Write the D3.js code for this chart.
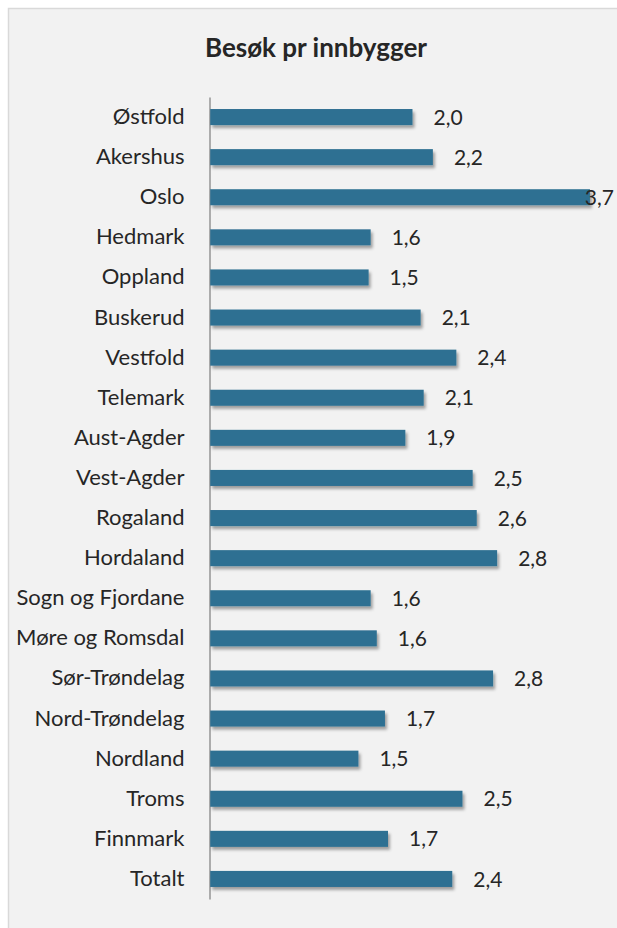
<!DOCTYPE html>
<html>
<head>
<meta charset="utf-8">
<script src="https://cdn.jsdelivr.net/npm/d3@7"></script>
<style>
  body { margin: 0; background: #ffffff; }
  svg { display: block; font-family: Lato, "Open Sans", sans-serif; }
</style>
</head>
<body>
<div id="chart"></div>
<script>
// fylker, top to bottom
var fylker = ["Østfold", "Akershus", "Oslo", "Hedmark", "Oppland", "Buskerud", "Vestfold",
    "Telemark", "Aust-Agder", "Vest-Agder", "Rogaland", "Hordaland", "Sogn og Fjordane",
    "Møre og Romsdal", "Sør-Trøndelag", "Nord-Trøndelag", "Nordland", "Troms", "Finnmark", "Totalt"];

// besøk pr innbygger (bar lengths)
var besok = [1.99, 2.19, 3.73, 1.58, 1.56, 2.07, 2.42, 2.10, 1.92, 2.58,
    2.62, 2.82, 1.58, 1.64, 2.78, 1.72, 1.46, 2.48, 1.75, 2.38];

// data labels as printed
var etiketter = ["2,0", "2,2", "3,7", "1,6", "1,5", "2,1", "2,4", "2,1", "1,9", "2,5",
    "2,6", "2,8", "1,6", "1,6", "2,8", "1,7", "1,5", "2,5", "1,7", "2,4"];

var W = 617, H = 928;
var margin = { top: 97, left: 209.5, bottom: 29 };
var xMax = 4; // axis max (hidden axis)

var data = fylker.map(function (f, i) {
    return { fylke: f, verdi: besok[i], tekst: etiketter[i] };
});

var svg = d3.select("#chart").append("svg")
    .attr("width", W)
    .attr("height", H);

// drop shadow for the bars
var filter = svg.append("defs").append("filter")
    .attr("id", "skygge")
    .attr("x", "-10%").attr("y", "-30%")
    .attr("width", "130%").attr("height", "190%");
filter.append("feDropShadow")
    .attr("dx", 2).attr("dy", 3)
    .attr("stdDeviation", 1.8)
    .attr("flood-color", "#000")
    .attr("flood-opacity", 0.35);

// chart area
svg.append("rect")
    .attr("x", 8.5).attr("y", 8.5)
    .attr("width", W + 10).attr("height", H + 10)
    .attr("fill", "#f2f2f2")
    .attr("stroke", "#d9d9d9")
    .attr("stroke-width", 1.5);

svg.append("text")
    .attr("x", 316)
    .attr("y", 57)
    .attr("text-anchor", "middle")
    .attr("font-size", "26px")
    .attr("font-weight", "bold")
    .attr("fill", "#262626")
    .text("Besøk pr innbygger");

var x = d3.scaleLinear()
    .domain([0, xMax])
    .range([margin.left, margin.left + 102 * xMax]);

var y = d3.scaleBand()
    .domain(fylker)
    .range([margin.top, H - margin.bottom])
    .paddingInner(0.6)
    .paddingOuter(0.3);

// category axis
var yAxis = svg.append("g")
    .attr("transform", "translate(" + margin.left + ",0)")
    .call(d3.axisLeft(y).tickSize(0).tickPadding(25));
yAxis.select(".domain")
    .attr("stroke", "#868686")
    .attr("stroke-width", 1.3);
yAxis.selectAll(".tick text")
    .attr("font-family", "Lato, sans-serif")
    .attr("font-size", "22px")
    .attr("fill", "#262626");

svg.append("g").selectAll("rect")
    .data(data)
    .join("rect")
    .attr("x", x(0) + 0.7)
    .attr("y", function (d) { return y(d.fylke); })
    .attr("width", function (d) { return x(d.verdi) - x(0) - 0.7; })
    .attr("height", y.bandwidth())
    .attr("fill", "#2e7092")
    .attr("filter", "url(#skygge)");

// value labels, pushed back inside when they would run off the edge
svg.append("g").selectAll("text")
    .data(data)
    .join("text")
    .attr("x", function (d) { return x(d.verdi) + 21; })
    .attr("y", function (d) { return y(d.fylke) + y.bandwidth() / 2; })
    .attr("dy", "0.36em")
    .attr("font-size", "21px")
    .attr("fill", "#262626")
    .text(function (d) { return d.tekst; })
    .each(function () {
        var t = d3.select(this);
        var w = this.getComputedTextLength();
        if (+t.attr("x") + w > 614) {
            t.attr("x", 614).attr("text-anchor", "end");
        }
    });
</script>
</body>
</html>
